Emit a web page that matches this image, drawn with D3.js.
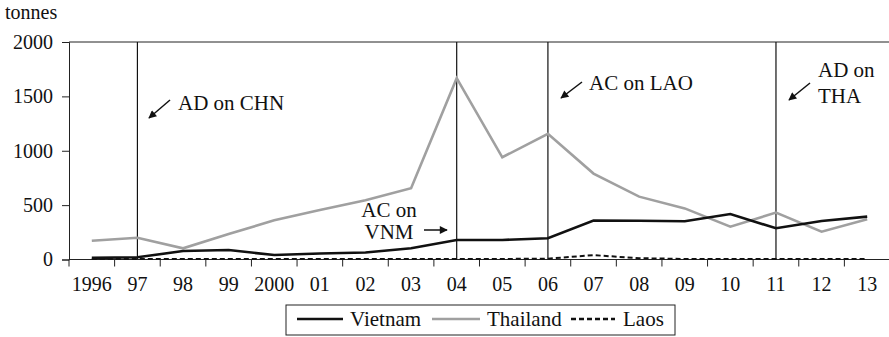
<!DOCTYPE html>
<html><head><meta charset="utf-8">
<script src="https://cdn.jsdelivr.net/npm/d3@7"></script>
<style>body{margin:0;background:#fff}svg{display:block}svg text{font-family:"Liberation Serif" !important}</style>
</head><body>
<script>
const years = ["1996","97","98","99","2000","01","02","03","04","05","06","07","08","09","10","11","12","13"];
const vietnam = [15,20,78,87,41,55,65,103,180,180,195,358,357,352,418,287,354,394];
const thailand = [173,200,103,235,360,455,545,655,1667,940,1155,790,578,470,302,431,256,370];
const laos = [5,5,5,5,5,5,5,5,5,5,8,40,12,5,5,5,5,5];
const yTicks = [0,500,1000,1500,2000];
const eventYears = ["97","04","06","11"];

const W=889,H=337, L=69, R=890, T=42, B=259.5;
const svg=d3.select("body").append("svg").attr("width",W).attr("height",H).attr("font-family","Liberation Serif");
const x=d3.scaleBand().domain(years).range([L,R]).padding(0);
const y=d3.scaleLinear().domain([0,2000]).range([B,T]);
const cx=d=>x(d)+x.bandwidth()/2;

svg.append("line").attr("x1",L).attr("x2",W).attr("y1",y(2000)).attr("y2",y(2000)).attr("stroke","#222").attr("stroke-width",1);

svg.selectAll(".ev").data(eventYears).join("line")
 .attr("x1",d=>cx(d)).attr("x2",d=>cx(d)).attr("y1",y(2000)).attr("y2",y(0))
 .attr("stroke","#111").attr("stroke-width",1.2);

const ya=svg.append("g").attr("transform",`translate(${L},0)`)
 .call(d3.axisLeft(y).tickValues(yTicks).tickSize(7).tickPadding(9).tickFormat(d3.format("d")));
ya.attr("font-family","Liberation Serif").attr("font-size",20);
ya.select(".domain").attr("stroke","#222");
ya.selectAll(".tick line").attr("stroke","#222");
ya.selectAll("text").attr("fill","#111");

const xa=svg.append("g").attr("transform",`translate(0,${B})`)
 .call(d3.axisBottom(x).tickSize(0).tickPadding(17));
xa.attr("font-family","Liberation Serif").attr("font-size",20);
xa.select(".domain").remove();
xa.selectAll("text").attr("fill","#111");
xa.selectAll(".tick").append("line").attr("x1",-x.bandwidth()/2).attr("x2",-x.bandwidth()/2).attr("y1",0).attr("y2",7).attr("stroke","#222");
svg.append("line").attr("x1",L).attr("x2",W).attr("y1",B).attr("y2",B).attr("stroke","#222");

const line=d3.line().x((d,i)=>cx(years[i])).y(d=>y(d));
svg.append("path").datum(thailand).attr("d",line).attr("fill","none").attr("stroke","#a0a0a0").attr("stroke-width",2.6);
svg.append("path").datum(vietnam).attr("d",line).attr("fill","none").attr("stroke","#111").attr("stroke-width",2.6);
svg.append("path").datum(laos).attr("d",line).attr("fill","none").attr("stroke","#111").attr("stroke-width",2).attr("stroke-dasharray","5,3");

svg.append("text").attr("x",5).attr("y",19).text("tonnes").attr("font-size",20).attr("fill","#111");

const defs=svg.append("defs");
defs.append("marker").attr("id","ah").attr("viewBox","0 0 10 10").attr("refX",9).attr("refY",5)
 .attr("markerWidth",9).attr("markerHeight",8).attr("markerUnits","userSpaceOnUse").attr("orient","auto")
 .append("path").attr("d","M0,0L10,5L0,10z").attr("fill","#111");
function arrow(x1,y1,x2,y2){svg.append("line").attr("x1",x1).attr("y1",y1).attr("x2",x2).attr("y2",y2).attr("stroke","#111").attr("stroke-width",1.5).attr("marker-end","url(#ah)");}
function label(xp,yp,t,anchor){svg.append("text").attr("x",xp).attr("y",yp).attr("text-anchor",anchor||"start").attr("font-size",21).attr("fill","#111").text(t);}

arrow(170,100,149,118); label(178,110,"AD on CHN");
arrow(582,82,561,98); label(589,90,"AC on LAO");
arrow(810,83,789,100); label(818,77,"AD on"); label(818,103,"THA");
arrow(424,230,447,230); label(389,217,"AC on","middle"); label(389,239,"VNM","middle");

const lg=svg.append("g");
lg.append("rect").attr("x",286).attr("y",305).attr("width",389).attr("height",30).attr("fill","none").attr("stroke","#222").attr("stroke-width",1);
const items=[{n:"Vietnam",c:"#111",d:null,x1:297,x2:343,tx:350},{n:"Thailand",c:"#a0a0a0",d:null,x1:432,x2:480,tx:487},{n:"Laos",c:"#111",d:"5,3",x1:571,x2:615,tx:623}];
items.forEach(it=>{
 lg.append("line").attr("x1",it.x1).attr("x2",it.x2).attr("y1",319).attr("y2",319).attr("stroke",it.c).attr("stroke-width",2.6).attr("stroke-dasharray",it.d);
 lg.append("text").attr("x",it.tx).attr("y",326).attr("font-size",21).attr("fill","#111").text(it.n);
});
</script>
</body></html>
